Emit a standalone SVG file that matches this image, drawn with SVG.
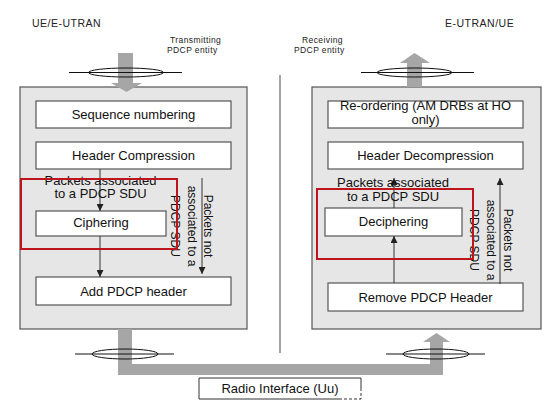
<svg xmlns="http://www.w3.org/2000/svg" width="555" height="413" viewBox="0 0 555 413">
<defs>
<style>
.big{fill:#e6e6e6;stroke:#555;stroke-width:1.2}
.box{fill:#fff;stroke:#555;stroke-width:1.2}
.red{fill:none;stroke:#c0141c;stroke-width:2}
.t{font-family:"Liberation Sans",Arial,sans-serif;font-size:13px;fill:#111;text-anchor:middle}
.r{font-family:"Liberation Sans",Arial,sans-serif;font-size:12px;fill:#111;text-anchor:middle}
.s{font-family:"Liberation Sans",Arial,sans-serif;font-size:8.5px;fill:#222;letter-spacing:0.4px}
.h{font-family:"Liberation Sans",Arial,sans-serif;font-size:10.5px;fill:#222;letter-spacing:0.5px}
.g{fill:#a6a6a6}
.ln{stroke:#333;stroke-width:1;fill:none}
.el{fill:none;stroke:#111;stroke-width:1}
</style>
<marker id="ah" viewBox="0 0 10 10" refX="10" refY="5" markerWidth="7" markerHeight="7" orient="auto" markerUnits="userSpaceOnUse">
<path d="M0,0 L10,5 L0,10 z" fill="#222"/>
</marker>
</defs>
<rect width="555" height="413" fill="#fff"/>

<g id="labels">
<text class="h" x="32" y="27">UE/E-UTRAN</text>
<text class="h" x="445" y="27">E-UTRAN/UE</text>
<text class="s" x="170" y="43">Transmitting</text>
<text class="s" x="167" y="53">PDCP  entity</text>
<text class="s" x="302" y="43">Receiving</text>
<text class="s" x="294" y="53">PDCP  entity</text>
</g>

<line x1="280" y1="75" x2="280" y2="353" stroke="#666" stroke-width="1.2"/>

<g id="tx-entity">
<rect class="big" x="20" y="87" width="227" height="242"/>
</g>
<g id="rx-entity">
<rect class="big" x="312" y="87" width="229" height="242"/>
</g>

<g id="pipes">
<rect class="g" x="118" y="53" width="15" height="31"/>
<polygon class="g" points="111,83 142,83 126.5,92"/>
<rect class="g" x="407" y="62" width="15" height="25"/>
<polygon class="g" points="400,63 430,63 414.5,53"/>
<rect class="g" x="118" y="329" width="14" height="46"/>
<rect class="g" x="118" y="364" width="325" height="11"/>
<rect class="g" x="430" y="341" width="13" height="34"/>
<polygon class="g" points="423,342 450,342 436.5,333"/>
</g>

<g id="saps">
<line class="el" x1="69" y1="72.5" x2="182" y2="72.5"/>
<ellipse class="el" cx="126" cy="72.5" rx="37.5" ry="4.5"/>
<line class="el" x1="361" y1="72.5" x2="474" y2="72.5"/>
<ellipse class="el" cx="414.5" cy="72.5" rx="37.5" ry="4.5"/>
<line class="el" x1="75" y1="354" x2="174" y2="354"/>
<ellipse class="el" cx="125" cy="354" rx="33" ry="5"/>
<line class="el" x1="386" y1="354" x2="485" y2="354"/>
<ellipse class="el" cx="436" cy="354" rx="33" ry="5"/>
</g>

<g id="seq-numbering">
<rect class="box" x="36" y="101" width="195" height="27"/>
<text class="t" x="133.5" y="118.5">Sequence numbering</text>
</g>
<g id="header-compression">
<rect class="box" x="36" y="142" width="195" height="27"/>
<text class="t" x="133.5" y="159.5">Header Compression</text>
</g>
<g id="ciphering">
<rect class="box" x="36" y="211" width="130" height="25"/>
<text class="t" x="101" y="227">Ciphering</text>
</g>
<g id="add-header">
<rect class="box" x="36" y="277" width="195" height="28"/>
<text class="t" x="133.5" y="295.5">Add PDCP header</text>
</g>

<g id="reordering">
<rect class="box" x="328" y="101" width="195" height="27"/>
<text class="t" x="425.5" y="110">Re-ordering (AM DRBs at HO</text>
<text class="t" x="425.5" y="124">only)</text>
</g>
<g id="header-decompression">
<rect class="box" x="328" y="142" width="195" height="27"/>
<text class="t" x="425.5" y="159.5">Header Decompression</text>
</g>
<g id="deciphering">
<rect class="box" x="325" y="208" width="137" height="28"/>
<text class="t" x="393.5" y="225.5">Deciphering</text>
</g>
<g id="remove-header">
<rect class="box" x="328" y="283" width="195" height="28"/>
<text class="t" x="425.5" y="302">Remove PDCP Header</text>
</g>

<g id="connectors">
<line class="ln" x1="100" y1="169" x2="100" y2="211" marker-end="url(#ah)"/>
<line class="ln" x1="100" y1="236" x2="100" y2="277" marker-end="url(#ah)"/>
<line class="ln" x1="202" y1="178" x2="202" y2="274" marker-end="url(#ah)"/>
<line class="ln" x1="394" y1="283" x2="394" y2="236" marker-end="url(#ah)"/>
<line class="ln" x1="394" y1="208" x2="394" y2="178" marker-end="url(#ah)"/>
<line class="ln" x1="500" y1="284" x2="500" y2="178" marker-end="url(#ah)"/>
</g>

<g id="labels-left">
<text class="t" x="100.5" y="185">Packets associated</text>
<text class="t" x="100.5" y="198">to a PDCP SDU</text>
<g transform="rotate(90)">
<text class="r" x="226" y="-204">Packets not</text>
<text class="r" x="226" y="-187.5">associated to a</text>
<text class="r" x="226" y="-171">PDCP SDU</text>
</g>
</g>
<g id="labels-right">
<text class="t" x="393" y="187">Packets associated</text>
<text class="t" x="393" y="201">to a PDCP SDU</text>
<g transform="rotate(90)">
<text class="r" x="240" y="-503.5">Packets not</text>
<text class="r" x="240" y="-487">associated to a</text>
<text class="r" x="240" y="-470">PDCP SDU</text>
</g>
</g>

<g id="red-frames">
<rect class="red" x="21" y="179" width="156" height="70"/>
<rect class="red" x="317" y="189" width="156" height="70"/>
</g>

<g id="radio-interface">
<rect x="199" y="378" width="162" height="21" fill="#fff"/>
<path d="M339,399 H199 V378 H361 V388" fill="none" stroke="#333" stroke-width="1"/>
<path d="M361,388 V399 H339" fill="none" stroke="#333" stroke-width="1" stroke-dasharray="3,2"/>
<text class="t" x="280" y="393">Radio Interface (Uu)</text>
</g>
</svg>
